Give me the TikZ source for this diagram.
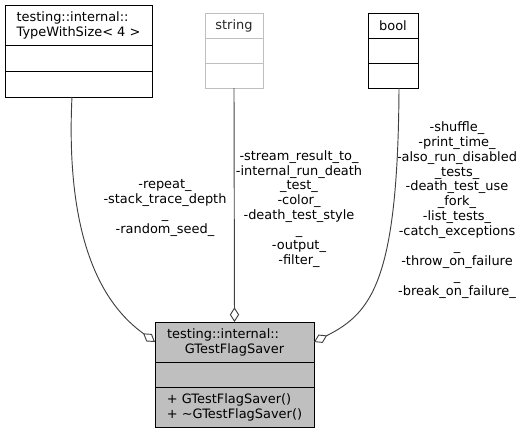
\documentclass[tikz,border=0pt]{standalone}
\usepackage{fontspec}
\setmainfont{DejaVu Sans}
\usetikzlibrary{arrows.meta, positioning}
\definecolor{edgegray}{HTML}{404040}
\definecolor{boxgray}{HTML}{BFBFBF}
\tikzset{
  classpart/.style={
    rectangle,
    draw=black,
    fill=white,
    inner sep=0pt,
    outer sep=0pt,
    align=left,
    line width=0.7pt
  },
  extpart/.style={
    classpart,
    draw=boxgray,
    text=black!85
  },
  mainpart/.style={
    classpart,
    fill=boxgray
  },
  member/.style={
    -{Diamond[open, length=11pt, width=7pt]},
    draw=edgegray,
    line width=0.7pt
  },
  memberlabel/.style={
    align=center,
    inner sep=0pt
  }
}

\begin{document}
\begin{tikzpicture}[x=0.75pt, y=-0.75pt, node distance=0pt,
    font=\fontsize{9.7}{11.2}\selectfont]
    \useasboundingbox (0,0) rectangle (528,433);

    \node[classpart, anchor=north west, minimum width=110.25pt, minimum height=30pt] (tws) at (5,5) {testing::internal::\\TypeWithSize< 4 >};
    \node[classpart, below=of tws, minimum width=110.25pt, minimum height=19.5pt] (twsattr) {};
    \node[classpart, below=of twsattr, minimum width=110.25pt, minimum height=19.5pt] (twsops) {};

    \node[extpart, anchor=north west, minimum width=43.5pt, minimum height=18.75pt] (string) at (205,13) {string};
    \node[extpart, below=of string, minimum width=43.5pt, minimum height=18.75pt] (stringattr) {};
    \node[extpart, below=of stringattr, minimum width=43.5pt, minimum height=18.75pt] (stringops) {};

    \node[classpart, anchor=north west, minimum width=37.5pt, minimum height=18.75pt] (bool) at (368,13) {bool};
    \node[classpart, below=of bool, minimum width=37.5pt, minimum height=18.75pt] (boolattr) {};
    \node[classpart, below=of boolattr, minimum width=37.5pt, minimum height=18.75pt] (boolops) {};

    \node[mainpart, anchor=north west, minimum width=119.25pt, minimum height=30pt, text width=101pt] (saver) at (155,322) {testing::internal::\par{\centering GTestFlagSaver\par}};
    \node[mainpart, below=of saver, minimum width=119.25pt, minimum height=18.75pt] (saverattr) {};
    \node[mainpart, below=of saverattr, minimum width=119.25pt, minimum height=30pt] (saverops) {+ GTestFlagSaver()\\+ \textasciitilde GTestFlagSaver()};

    \node[memberlabel] (lblleft) at (165,208) {-repeat\_\\-stack\_trace\_depth\\\_\\-random\_seed\_};
    \node[memberlabel] (lblmid) at (299,209) {-stream\_result\_to\_\\-internal\_run\_death\\\_test\_\\-color\_\\-death\_test\_style\\\_\\-output\_\\-filter\_};
    \node[memberlabel] (lblright) at (457,210) {-shuffle\_\\-print\_time\_\\-also\_run\_disabled\\\_tests\_\\-death\_test\_use\\\_fork\_\\-list\_tests\_\\-catch\_exceptions\\\_\\-throw\_on\_failure\\\_\\-break\_on\_failure\_};

    \draw[member] ([xshift=-4.9pt]twsops.south) .. controls +(-8,168) and +(-37,-27) .. (saver.west);
    \draw[member] (stringops.south) -- (saver.north);
    \draw[member] ([xshift=4.5pt]boolops.south) .. controls +(-1,192) and +(58,-29) .. (saver.east);
\end{tikzpicture}
\end{document}
